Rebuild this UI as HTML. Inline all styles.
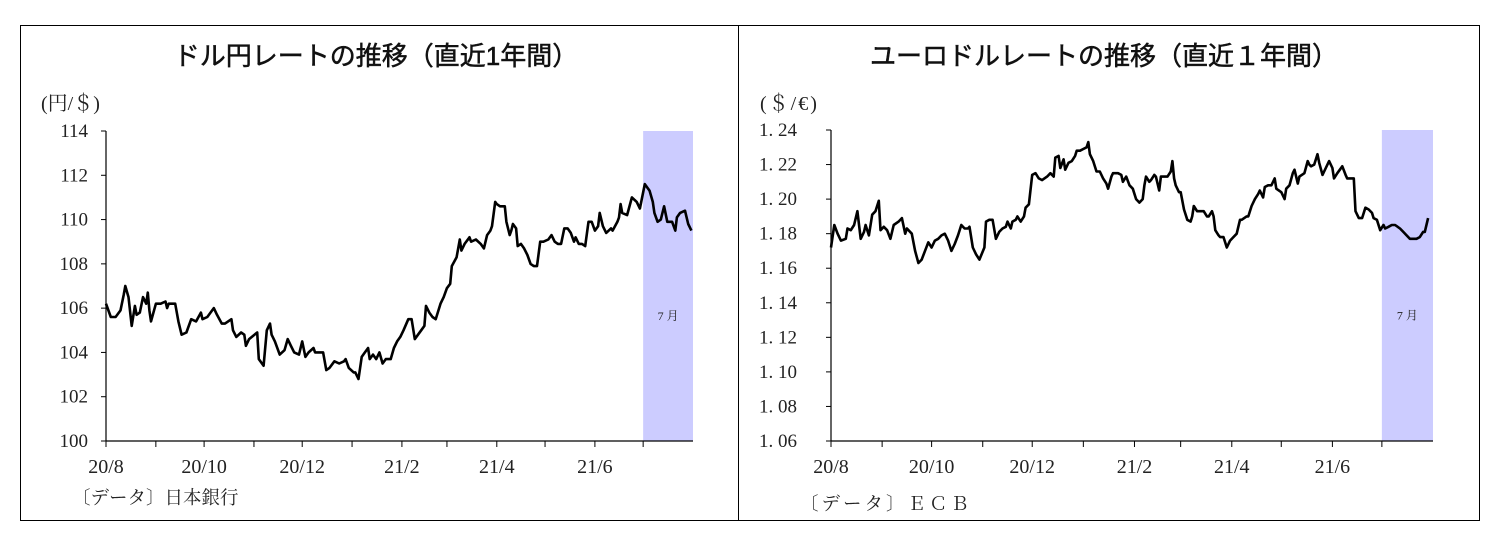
<!DOCTYPE html>
<html><head><meta charset="utf-8">
<style>
html,body{margin:0;padding:0;background:#fff;}
svg{display:block;}
.t{font-family:"Liberation Serif","Noto Serif CJK SC",serif;fill:#222;}
.g{font-family:"Liberation Sans","Noto Sans CJK JP",sans-serif;fill:#111;stroke:#111;stroke-width:0.5;}
</style></head>
<body>
<svg id="root" width="1496" height="545" viewBox="0 0 1496 545" xmlns="http://www.w3.org/2000/svg">
<rect x="0" y="0" width="1496" height="545" fill="#fff"/>
<rect x="20.5" y="25.5" width="1459" height="495" fill="none" stroke="#000" stroke-width="1"/>
<line x1="738.5" y1="25" x2="738.5" y2="521" stroke="#000"/>
<g id="left"></g>
<g id="right"></g>
</svg>
<script>
// Shared month axis (days since 2020-08-01)
const monthDays = [0,31,61,92,122,153,184,212,243,273,304,334,365];
const monthLabelDays = [0,61,122,184,243,304];
const monthLabels = ["20/8","20/10","20/12","21/2","21/4","21/6"];
const julyStart = 334, julyEnd = 365;

// USD/JPY
const jpyDays = [0,3,6,9,11,12,14,16,18,19,21,23,25,26,27,28,31,34,37,38,39,43,45,47,50,53,56,59,60,63,67,69,72,74,78,79,81,84,86,87,89,94,95,98,100,102,103,105,108,111,113,115,117,120,122,124,126,129,130,135,137,139,142,145,148,149,151,154,155,157,159,161,163,164,166,168,170,172,174,177,179,181,183,185,188,190,192,194,196,198,199,201,203,205,208,210,212,214,215,218,220,221,223,226,227,230,233,235,237,239,240,242,243,245,248,249,251,252,253,255,256,258,260,262,264,266,268,270,272,275,277,279,281,283,285,287,289,291,292,294,296,298,300,302,304,306,307,309,311,314,315,318,319,320,321,324,327,330,332,335,338,340,341,343,345,347,349,352,354,355,357,360,362,364];
const jpyValues = [106.2,105.6,105.6,105.9,106.6,107.0,106.5,105.2,106.1,105.7,105.8,106.5,106.2,106.7,105.9,105.4,106.2,106.2,106.3,106.0,106.2,106.2,105.4,104.8,104.9,105.5,105.4,105.8,105.5,105.6,106.0,105.7,105.3,105.3,105.5,105.0,104.7,104.9,104.8,104.3,104.6,104.9,103.7,103.4,105.0,105.3,104.8,104.5,103.9,104.1,104.6,104.3,104.0,103.9,104.5,103.8,104.0,104.2,104.0,104.0,103.2,103.3,103.6,103.5,103.6,103.7,103.3,103.1,103.1,102.8,103.8,104.0,104.2,103.7,103.9,103.7,104.0,103.5,103.7,103.7,104.2,104.5,104.7,105.0,105.5,105.5,104.6,104.8,105.0,105.2,106.1,105.8,105.6,105.5,106.2,106.5,106.9,107.1,107.9,108.3,109.1,108.6,108.9,109.2,109.0,109.1,108.9,108.7,109.3,109.5,109.7,110.8,110.7,110.6,110.6,109.9,109.3,109.5,109.8,109.6,108.8,108.9,108.7,108.4,108.0,107.9,107.9,109.0,109.0,109.1,109.3,109.0,108.9,108.9,109.6,109.6,109.4,109.0,109.2,108.9,108.9,108.8,109.9,109.9,109.5,109.7,110.3,109.7,109.4,109.6,109.5,109.9,110.1,110.7,110.3,110.2,111.0,110.8,110.5,111.6,111.3,110.8,110.3,109.9,110.0,110.6,109.9,109.9,109.5,110.1,110.3,110.4,109.8,109.5];
const jpyTicks = [100,102,104,106,108,110,112,114];
const jpyTickLabels = ["100","102","104","106","108","110","112","114"];

// EUR/USD
const eurDays = [0,2,4,6,9,10,12,14,16,18,20,21,23,25,27,29,30,32,34,36,38,41,43,45,46,49,51,53,55,57,59,61,63,65,67,69,71,73,75,77,79,81,83,84,86,88,90,93,94,96,98,100,102,104,106,107,109,110,112,113,115,117,118,120,122,124,126,128,131,133,135,136,138,139,141,142,144,146,148,149,151,153,155,156,157,159,161,163,165,167,168,170,171,174,176,177,179,181,183,185,187,189,190,191,193,194,196,197,199,200,203,204,206,207,208,209,211,212,214,216,218,219,220,222,223,226,228,229,231,232,233,235,236,238,240,242,244,246,248,249,252,253,255,257,259,260,262,263,265,267,269,270,273,275,276,278,280,281,283,284,287,289,290,291,293,295,296,298,300,302,304,305,307,310,312,313,316,317,318,320,322,324,326,328,329,331,333,335,336,338,340,342,345,347,349,351,353,355,357,359,360,362];
const eurValues = [1.172,1.185,1.180,1.176,1.177,1.183,1.182,1.185,1.193,1.177,1.181,1.185,1.179,1.191,1.193,1.199,1.182,1.184,1.182,1.177,1.185,1.187,1.189,1.180,1.183,1.180,1.170,1.163,1.165,1.170,1.175,1.172,1.176,1.177,1.179,1.180,1.176,1.170,1.174,1.179,1.185,1.183,1.183,1.184,1.172,1.168,1.165,1.172,1.187,1.188,1.188,1.177,1.181,1.183,1.184,1.187,1.183,1.187,1.188,1.190,1.187,1.190,1.195,1.197,1.214,1.215,1.212,1.211,1.213,1.215,1.213,1.224,1.225,1.218,1.223,1.217,1.221,1.222,1.225,1.228,1.228,1.229,1.230,1.233,1.226,1.222,1.216,1.216,1.212,1.209,1.206,1.213,1.215,1.215,1.214,1.210,1.213,1.208,1.206,1.200,1.198,1.200,1.208,1.213,1.210,1.211,1.214,1.213,1.205,1.213,1.213,1.213,1.216,1.222,1.212,1.208,1.204,1.204,1.194,1.188,1.187,1.190,1.196,1.193,1.193,1.193,1.190,1.190,1.193,1.190,1.182,1.179,1.178,1.178,1.172,1.176,1.178,1.180,1.188,1.188,1.190,1.190,1.196,1.200,1.203,1.205,1.201,1.207,1.208,1.208,1.212,1.206,1.204,1.200,1.206,1.208,1.215,1.217,1.209,1.213,1.215,1.222,1.220,1.219,1.220,1.226,1.221,1.214,1.218,1.222,1.218,1.212,1.215,1.219,1.214,1.212,1.212,1.212,1.193,1.189,1.189,1.195,1.194,1.192,1.189,1.188,1.182,1.185,1.183,1.184,1.185,1.185,1.183,1.181,1.179,1.177,1.177,1.177,1.178,1.181,1.181,1.189];
const eurTicks = [1.06,1.08,1.10,1.12,1.14,1.16,1.18,1.20,1.22,1.24];
const eurTickLabels = ["1. 06","1. 08","1. 10","1. 12","1. 14","1. 16","1. 18","1. 20","1. 22","1. 24"];

const NS = "http://www.w3.org/2000/svg";
function mk(tag, attrs, parent){const e=document.createElementNS(NS,tag);for(const k in attrs)e.setAttribute(k,attrs[k]);parent.appendChild(e);return e;}

function drawChart(g, cfg){
  const {x0,x1,y0,y1,vmin,vmax,days,values,ticks,tickLabels,labelX,labelAnchor} = cfg;
  const xs = d => x0 + (d/365)*(x1-x0);
  const ys = v => y1 - (v-vmin)/(vmax-vmin)*(y1-y0);
  const sh = mk('rect',{x:xs(julyStart),y:y0,width:xs(julyEnd)-xs(julyStart),height:y1-y0,fill:'#ccccff'},g);
  
  
  const jl = mk('text',{x:(xs(julyStart)+xs(julyEnd))/2,y:y0+0.61*(y1-y0),'text-anchor':'middle','font-size':'12',class:'t'},g);
  jl.textContent='7 月';
  
  
  const ya = mk('line',{x1:x0,y1:y0,x2:x0,y2:y1,stroke:'#000','stroke-width':1.2},g);
  
  
  const xa = mk('line',{x1:x0,y1:y1,x2:x1,y2:y1,stroke:'#000','stroke-width':1.2},g);
  
  
  ticks.forEach((t,i)=>{
    const y=ys(t);
    const tk=mk('line',{x1:x0-5,y1:y,x2:x0,y2:y,stroke:'#000'},g);
    
    
    const lb=mk('text',{x:labelX,y:y+6,'text-anchor':labelAnchor,'font-size':'19',class:'t'},g);
    lb.textContent=tickLabels[i];
    
    
  });
  monthDays.forEach(d=>{
    if(d>=365) return;
    const x=xs(d);
    const tk=mk('line',{x1:x,y1:y1,x2:x,y2:y1+6,stroke:'#000'},g);
    
    
  });
  monthLabelDays.forEach((d,i)=>{
    const lb=mk('text',{x:xs(d),y:y1+32,'text-anchor':'middle','font-size':'20',class:'t'},g);
    lb.textContent=monthLabels[i];
    
    
  });
  let p='';
  days.forEach((d,i)=>{p+=(i?'L':'M')+xs(d).toFixed(1)+' '+ys(values[i]).toFixed(1);});
  const ln=mk('path',{d:p,fill:'none',stroke:'#000','stroke-width':2.6,'stroke-linejoin':'round'},g);
  
  
}

const L=document.getElementById('left'), R=document.getElementById('right');
drawChart(L,{x0:106,x1:693,y0:131,y1:441,vmin:100,vmax:114,days:jpyDays,values:jpyValues,ticks:jpyTicks,tickLabels:jpyTickLabels,labelX:88,labelAnchor:'end'});
drawChart(R,{x0:831,x1:1433,y0:130,y1:441,vmin:1.06,vmax:1.24,days:eurDays,values:eurValues,ticks:eurTicks,tickLabels:eurTickLabels,labelX:759,labelAnchor:'start'});

function txt(g,x,y,s,size,cls,anchor,name,ls){
  const t=mk('text',{x:x,y:y,'font-size':size,class:cls,'text-anchor':anchor},g);
  if(ls) t.setAttribute('letter-spacing',ls);
  t.textContent=s;
  
  
}
txt(L,376,65,'ドル円レートの推移（直近1年間）','26','g','middle','chart-title');
txt(L,41,110,'(円/＄)','20','t','start','y-axis-unit');
txt(L,72,504,'〔データ〕日本銀行','18.5','t','start','source-note');
txt(R,1104,65,'ユーロドルレートの推移（直近１年間）','26','g','middle','chart-title');
txt(R,760,110,'(＄/€)','20','t','start','y-axis-unit','2');
txt(R,800,510,'〔データ〕ＥＣＢ','18.5','t','start','source-note','3');
</script>
</body></html>
